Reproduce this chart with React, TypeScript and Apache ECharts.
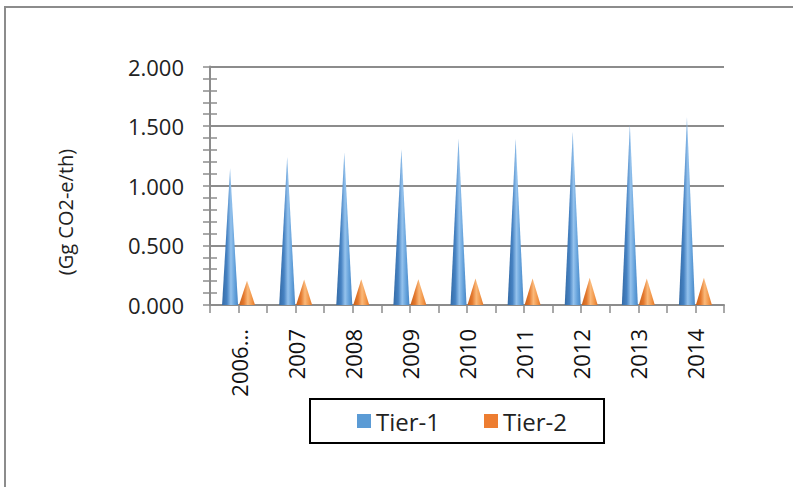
import React, { useEffect, useRef } from "react";
import * as echarts from "echarts";

const categories = ["2006...", "2007", "2008", "2009", "2010", "2011", "2012", "2013", "2014"];
const tier1 = [1.147, 1.244, 1.278, 1.308, 1.397, 1.397, 1.453, 1.517, 1.578];
const tier2 = [0.203, 0.214, 0.216, 0.216, 0.222, 0.222, 0.228, 0.222, 0.228];
const yTicks = [0, 0.5, 1, 1.5, 2];
const seriesNames = ["Tier-1", "Tier-2"];

const FONT = "'Open Sans', 'Noto Sans', sans-serif";
const GRAY = "#8c8c8c";

const blueGrad = {
  type: "linear", x: 0, y: 0, x2: 1, y2: 0,
  colorStops: [
    { offset: 0, color: "#356ba6" },
    { offset: 0.3, color: "#4682c2" },
    { offset: 0.55, color: "#94c2ed" },
    { offset: 0.8, color: "#62a0da" },
    { offset: 1, color: "#4a87c5" },
  ],
};
const orangeGrad = {
  type: "linear", x: 0, y: 0, x2: 1, y2: 0,
  colorStops: [
    { offset: 0, color: "#c5601c" },
    { offset: 0.3, color: "#e4792e" },
    { offset: 0.55, color: "#fab97a" },
    { offset: 0.8, color: "#f29648" },
    { offset: 1, color: "#df7529" },
  ],
};

export default function App() {
  const ref = useRef<HTMLDivElement>(null);
  useEffect(() => {
    document.body.style.margin = "0";
    if (!ref.current) return;
    const chart = echarts.init(ref.current, undefined, { renderer: "svg" });
    const halfCats = categories.flatMap((c, i) => [`a${i}`, `b${i}`]);
    const yMin = yTicks[0];
    const yMax = yTicks[yTicks.length - 1];
    const yInt = yTicks[1] - yTicks[0];
    chart.setOption({
      animation: false,
      backgroundColor: "#ffffff",
      grid: { left: 210, right: 69, top: 66.5, bottom: 182 },
      graphic: [
        {
          type: "rect",
          shape: { x: 5, y: 7, width: 1000, height: 1000 },
          style: { fill: "none", stroke: GRAY, lineWidth: 2 },
          silent: true,
        },
        {
          type: "text",
          x: 65,
          y: 212,
          rotation: Math.PI / 2,
          style: {
            text: "(Gg CO2-e/th)",
            fontFamily: FONT,
            fontSize: 20,
            fill: "#222",
            align: "center",
            verticalAlign: "middle",
          },
        },
      ],
      legend: {
        left: 310,
        top: 399,
        orient: "horizontal",
        borderColor: "#000",
        borderWidth: 2,
        borderRadius: 0,
        padding: [10, 37, 10, 47],
        itemWidth: 14,
        itemHeight: 14,
        itemGap: 44,
        icon: "rect",
        textStyle: { fontFamily: FONT, fontSize: 24, color: "#222" },
        data: [
          { name: seriesNames[0], itemStyle: { color: "#5b9bd5" } },
          { name: seriesNames[1], itemStyle: { color: "#ed7d31" } },
        ],
      },
      xAxis: [
        {
          type: "category",
          data: categories,
          axisLine: { show: true, lineStyle: { color: GRAY, width: 2 } },
          axisTick: { show: false },
          axisLabel: {
            rotate: 90,
            margin: 24,
            interval: 0,
            fontFamily: FONT,
            fontSize: 22,
            color: "#111",
          },
          splitLine: { show: false },
        },
        {
          type: "category",
          data: halfCats,
          position: "bottom",
          axisLine: { show: false },
          axisTick: { show: true, interval: 0, length: 8, lineStyle: { color: GRAY, width: 1.5 } },
          axisLabel: { show: false },
          splitLine: { show: false },
        },
      ],
      yAxis: [
        {
          type: "value",
          min: yMin,
          max: yMax,
          interval: yInt,
          axisLine: { show: true, lineStyle: { color: GRAY, width: 2 } },
          axisTick: { show: true, length: 7, lineStyle: { color: GRAY, width: 1.5 } },
          minorTick: { show: true, splitNumber: 5, length: 7, lineStyle: { color: GRAY, width: 1.5 } },
          axisLabel: {
            margin: 26,
            fontFamily: FONT,
            fontSize: 22,
            color: "#222",
            formatter: (v: number) => v.toFixed(3),
          },
          splitLine: { show: true, lineStyle: { color: GRAY, width: 2 } },
        },
        {
          type: "value",
          min: yMin,
          max: yMax,
          interval: yInt,
          position: "left",
          axisLine: { show: false },
          axisTick: { show: true, inside: true, length: 7, lineStyle: { color: GRAY, width: 1.5 } },
          minorTick: { show: true, splitNumber: 5, length: 7, lineStyle: { color: GRAY, width: 1.5 } },
          axisLabel: { show: false },
          splitLine: { show: false },
        },
      ],
      series: [
        {
          name: seriesNames[0],
          type: "pictorialBar",
          symbol: "triangle",
          symbolSize: ["100%", "100%"],
          barWidth: 16,
          barGap: "6%",
          data: tier1,
          itemStyle: { color: blueGrad },
          z: 3,
        },
        {
          name: seriesNames[1],
          type: "pictorialBar",
          symbol: "triangle",
          symbolSize: ["100%", "100%"],
          barWidth: 16,
          barGap: "6%",
          data: tier2,
          itemStyle: { color: orangeGrad },
          z: 3,
        },
      ],
    });
    return () => chart.dispose();
  }, []);
  return <div ref={ref} style={{ width: 793, height: 487 }} />;
}
